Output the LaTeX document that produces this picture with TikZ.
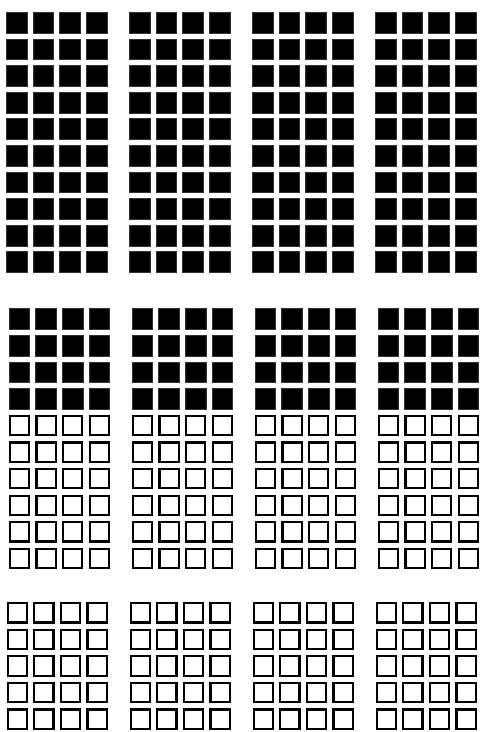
\documentclass[tikz,border=0pt]{standalone}
\tikzset{
  full/.style={fill=black, draw=black!80, line width=0.8pt},
  hollow/.style={draw=black, line width=2.2pt}
}
\begin{document}
\begin{tikzpicture}[x=1pt,y=-1pt]
  \useasboundingbox (0,0) rectangle (488,732);
  \def\s{21.5} \def\p{26.6} \def\g{123}
  % top block: ten filled rows
  \foreach \k in {0,...,3}
    \foreach \i in {0,...,3}
      \foreach \j in {0,...,9}
        \draw[full] ({6+\k*\g+\i*\p+0.4},{12+\j*\p+0.4}) rectangle ++(\s-0.8,\s-0.8);
  % middle block: four filled rows, six empty rows
  \foreach \k in {0,...,3}
    \foreach \i in {0,...,3} {
      \foreach \j in {0,...,3}
        \draw[full] ({8.7+\k*\g+\i*\p+0.4},{308.3+\j*\p+0.4}) rectangle ++(\s-0.8,\s-0.8);
      \foreach \j in {4,...,9}
        \draw[hollow] ({8.7+\k*\g+\i*\p+1.1},{308.3+\j*\p+1.1}) rectangle ++(\s-2.2,\s-2.2);
    }
  % bottom block: five empty rows
  \foreach \k in {0,...,3}
    \foreach \i in {0,...,3}
      \foreach \j in {0,...,4}
        \draw[hollow] ({6.5+\k*\g+\i*\p+1.1},{602+\j*\p+1.1}) rectangle ++(\s-2.2,\s-2.2);
\end{tikzpicture}
\end{document}
